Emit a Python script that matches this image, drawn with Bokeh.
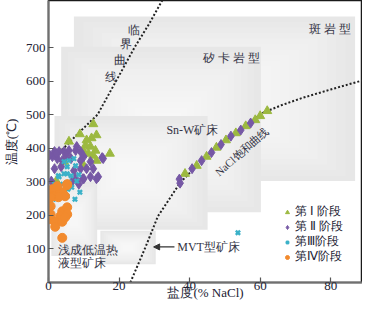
from bokeh.plotting import figure
from bokeh.models import Range1d, FixedTicker, Legend, LegendItem, Arrow, NormalHead
from bokeh.core.properties import value
from bokeh.embed import file_html
from bokeh.resources import INLINE

# ---------------- data (salinity % NaCl, temperature °C) ----------------
stage1_x = [12.7, 8.9, 5.8, 13.6, 10.8, 12.2, 10.5, 11.9, 13.3, 17.4, 12.7, 13.6, 10.0, 11.3, 4.4, 2.2, 10.0,
            38.7, 42.0, 44.8, 47.6, 50.3, 53.1, 55.9, 58.6, 60.0, 62.0]
stage1_y = [472, 442, 420, 439, 424, 430, 408, 405, 393, 384, 378, 363, 390, 384, 360, 302, 348,
            324, 348, 375, 402, 424, 445, 466, 484, 496, 511]

stage2_x = [1.7, 3.0, 4.4, 5.8, 7.7, 8.0, 9.1, 10.0, 2.5, 1.1, 3.9, 6.4, 9.1, 15.5, 11.9, 12.7, 10.8, 9.1, 7.2,
            3.6, 1.7, 11.9, 14.1, 10.0, 7.7, 0.8, 8.6, 6.6, 15.2, 13.6, 9.7, 0.3, 2.2, 5.0,
            37.3, 37.1, 40.7, 43.4, 46.2, 48.9, 51.7, 54.5, 57.3]
stage2_y = [390, 390, 390, 393, 393, 405, 390, 375, 369, 375, 363, 369, 363, 369, 360, 339, 339, 339, 333,
            345, 339, 315, 315, 309, 309, 302, 293, 299, 372, 309, 309, 380, 384, 378,
            296, 308, 339, 363, 387, 411, 436, 454, 475]

stage3_x = [4.4, 5.8, 7.2, 5.3, 7.7, 4.4, 6.4, 3.0, 5.8, 1.7, 2.8, 5.3, 8.0, 4.1, 6.6, 8.9, 5.3, 7.5, 2.8,
            0.6, 1.4, 5.5, 8.6, 53.7]
stage3_y = [360, 363, 369, 345, 348, 324, 318, 315, 299, 293, 318, 324, 302, 293, 284, 269, 257, 248, 257,
            239, 248, 278, 321, 148]

stage4_x = [1.1, 1.9, 1.4, 3.9, 5.3, 4.7, 2.8, 0.6, 3.9, 5.3, 5.3, 3.3, 0.6, 1.9, 3.9, 4.7, 1.9, 0.6, 3.9,
            0.6, 2.5, 5.3]
stage4_y = [278, 272, 257, 269, 290, 257, 254, 227, 212, 224, 203, 197, 188, 181, 181, 194, 166, 203, 133,
            254, 287, 293]

stage_labels = ["第 Ⅰ 阶段", "第 Ⅱ 阶段", "第Ⅲ阶段", "第Ⅳ阶段"]

# curves
critical_x = [0.0, 4.2, 8.6, 13.9, 19.2, 24.5, 28.5, 32.5]
critical_y = [368, 399, 446, 500, 601, 702, 770, 845]
nacl_x = [23.2, 27.4, 31.0, 37.3, 44.0, 50.3, 56.0, 60.9, 66.0, 72.0, 80.0, 89.0]
nacl_y = [0, 103, 197, 297, 370, 424, 470, 506, 528, 550, 575, 602]

# deposit-type fields: left, right, bottom, top
field_names = ["斑岩型", "矽卡岩型", "Sn-W矿床", "浅成低温热液型矿床", "MVT型矿床"]
field_left = [7.2, 3.6, 1.7, 0.8, 14.7]
field_right = [86.9, 60.2, 45.1, 13.8, 30.4]
field_bottom = [302, 209, 157, 79, 54]
field_top = [792, 702, 496, 300, 154]

x_ticks = [0, 20, 40, 60, 80]
y_ticks = [100, 200, 300, 400, 500, 600, 700]

SERIF = "Liberation Serif"

# ---------------- figure ----------------
p = figure(width=362, height=302, output_backend="svg", toolbar_location=None,
           x_range=Range1d(0, 89), y_range=Range1d(0, 840),
           min_border_left=40, min_border_right=0, min_border_top=0, min_border_bottom=10)
p.background_fill_color = "white"
p.border_fill_color = "white"
p.xgrid.visible = False
p.ygrid.visible = False
p.outline_line_color = "#1a1a1a"
p.outline_line_width = 1.5

# gradient-like fields (grey edges, whitish centre)
steps = 14
for i in range(len(field_left)):
    l, r, b, t = field_left[i], field_right[i], field_bottom[i], field_top[i]
    p.quad(left=[l], right=[r], bottom=[b], top=[t], fill_color="#e7e7e7", line_color=None)
    cx, cy = (l + r) / 2, (b + t) / 2
    for k in range(1, steps + 1):
        f = 1 - k / (steps + 1.0)
        p.quad(left=[cx - (cx - l) * f], right=[cx + (r - cx) * f],
               bottom=[cy - (cy - b) * f], top=[cy + (t - cy) * f],
               fill_color="white", fill_alpha=0.11, line_color=None)

# curves
p.line(critical_x, critical_y, line_color="#222222", line_width=2, line_dash="2 2")
p.line(nacl_x, nacl_y, line_color="#222222", line_width=2, line_dash="2 2")

# scatter
r1 = p.scatter(stage1_x, stage1_y, marker="triangle", size=9, fill_color="#9cb940", line_color="#9cb940")
r2 = p.scatter(stage2_x, stage2_y, marker="diamond", size=10, fill_color="#7658a5", line_color="#7658a5")
r3 = p.scatter(stage3_x, stage3_y, marker="x", size=6, line_color="#3ab1c8", line_width=2.4)
r4 = p.scatter(stage4_x, stage4_y, marker="circle", size=9, fill_color="#f28a2d", line_color="#f28a2d")

font = value(SERIF)
txt_color = "#333344"

# critical curve label (vertical, stepped)
crit_chars = ["临", "界", "曲", "线"]
crit_cx = [24.1, 22.1, 20.2, 17.7]
crit_cy = [753, 711, 662, 611]
p.text(crit_cx, crit_cy, text=crit_chars, text_font=font, text_font_size="12px",
       text_align="center", text_baseline="middle", text_color=txt_color)

# field labels
lab_x = [79.7, 52.0, 40.8]
lab_y = [756, 668, 454]
lab_t = ["斑 岩 型", "矽 卡 岩 型", "Sn-W矿床"]
p.text(lab_x, lab_y, text=lab_t, text_font=font, text_font_size="12px",
       text_align="center", text_baseline="middle", text_color=txt_color)

ep_x = [2.8, 2.8]
ep_y = [97, 57]
ep_t = ["浅成低温热", "液型矿床"]
p.text(ep_x, ep_y, text=ep_t, text_font=font, text_font_size="12px",
       text_align="left", text_baseline="middle", text_color=txt_color)

p.text([36.5], [106], text=["MVT型矿床"], text_font=font, text_font_size="12px",
       text_align="left", text_baseline="middle", text_color=txt_color)
arrow_x = [35.7, 29.8]
arrow_y = [106, 106]
p.add_layout(Arrow(end=NormalHead(size=6, fill_color="#333333", line_color="#333333"),
                   x_start=arrow_x[0], y_start=arrow_y[0], x_end=arrow_x[1], y_end=arrow_y[1],
                   line_color="#333333", line_width=1.3))

p.text([54.8], [390], text=["NaCl饱和曲线"], angle=0.72, text_font=font, text_font_size="11px",
       text_align="center", text_baseline="middle", text_color=txt_color)

# axes
for ax in (p.xaxis, p.yaxis):
    ax.major_tick_in = 5
    ax.major_tick_out = 0
    ax.minor_tick_line_color = None
    ax.axis_line_color = "#707070"
    ax.axis_line_width = 2
    ax.major_tick_line_color = "#555555"
    ax.major_tick_line_width = 1.2
    ax.major_label_text_font = SERIF
    ax.major_label_text_font_size = "13px"
    ax.major_label_text_color = "#222233"
    ax.major_label_text_line_height = 1.0
    ax.axis_label_text_font = SERIF
    ax.axis_label_text_font_size = "13px"
    ax.axis_label_text_font_style = "normal"
    ax.axis_label_text_color = "#222233"
    ax.axis_label_text_line_height = 1.0
p.xaxis.ticker = FixedTicker(ticks=x_ticks)
p.yaxis.ticker = FixedTicker(ticks=y_ticks)
p.xaxis.axis_label = "盐度(% NaCl)"
p.yaxis.axis_label = "温度(℃)"
p.xaxis.major_label_standoff = -1
p.xaxis.axis_label_standoff = -8
p.yaxis.major_label_standoff = 3
p.yaxis.axis_label_standoff = 4

legend = Legend(items=[LegendItem(label=stage_labels[0], renderers=[r1]),
                       LegendItem(label=stage_labels[1], renderers=[r2]),
                       LegendItem(label=stage_labels[2], renderers=[r3]),
                       LegendItem(label=stage_labels[3], renderers=[r4])],
                location=(234, 18))
legend.label_text_font = SERIF
legend.label_text_font_size = "11.5px"
legend.label_text_color = "#222233"
legend.label_text_line_height = 0.9
legend.glyph_width = 10
legend.glyph_height = 10
legend.label_height = 10
legend.label_standoff = 3
legend.spacing = -2
legend.padding = 2
legend.margin = 0
legend.border_line_color = None
legend.background_fill_alpha = 0
p.add_layout(legend)

open("out.html", "w").write(file_html(p, INLINE))
